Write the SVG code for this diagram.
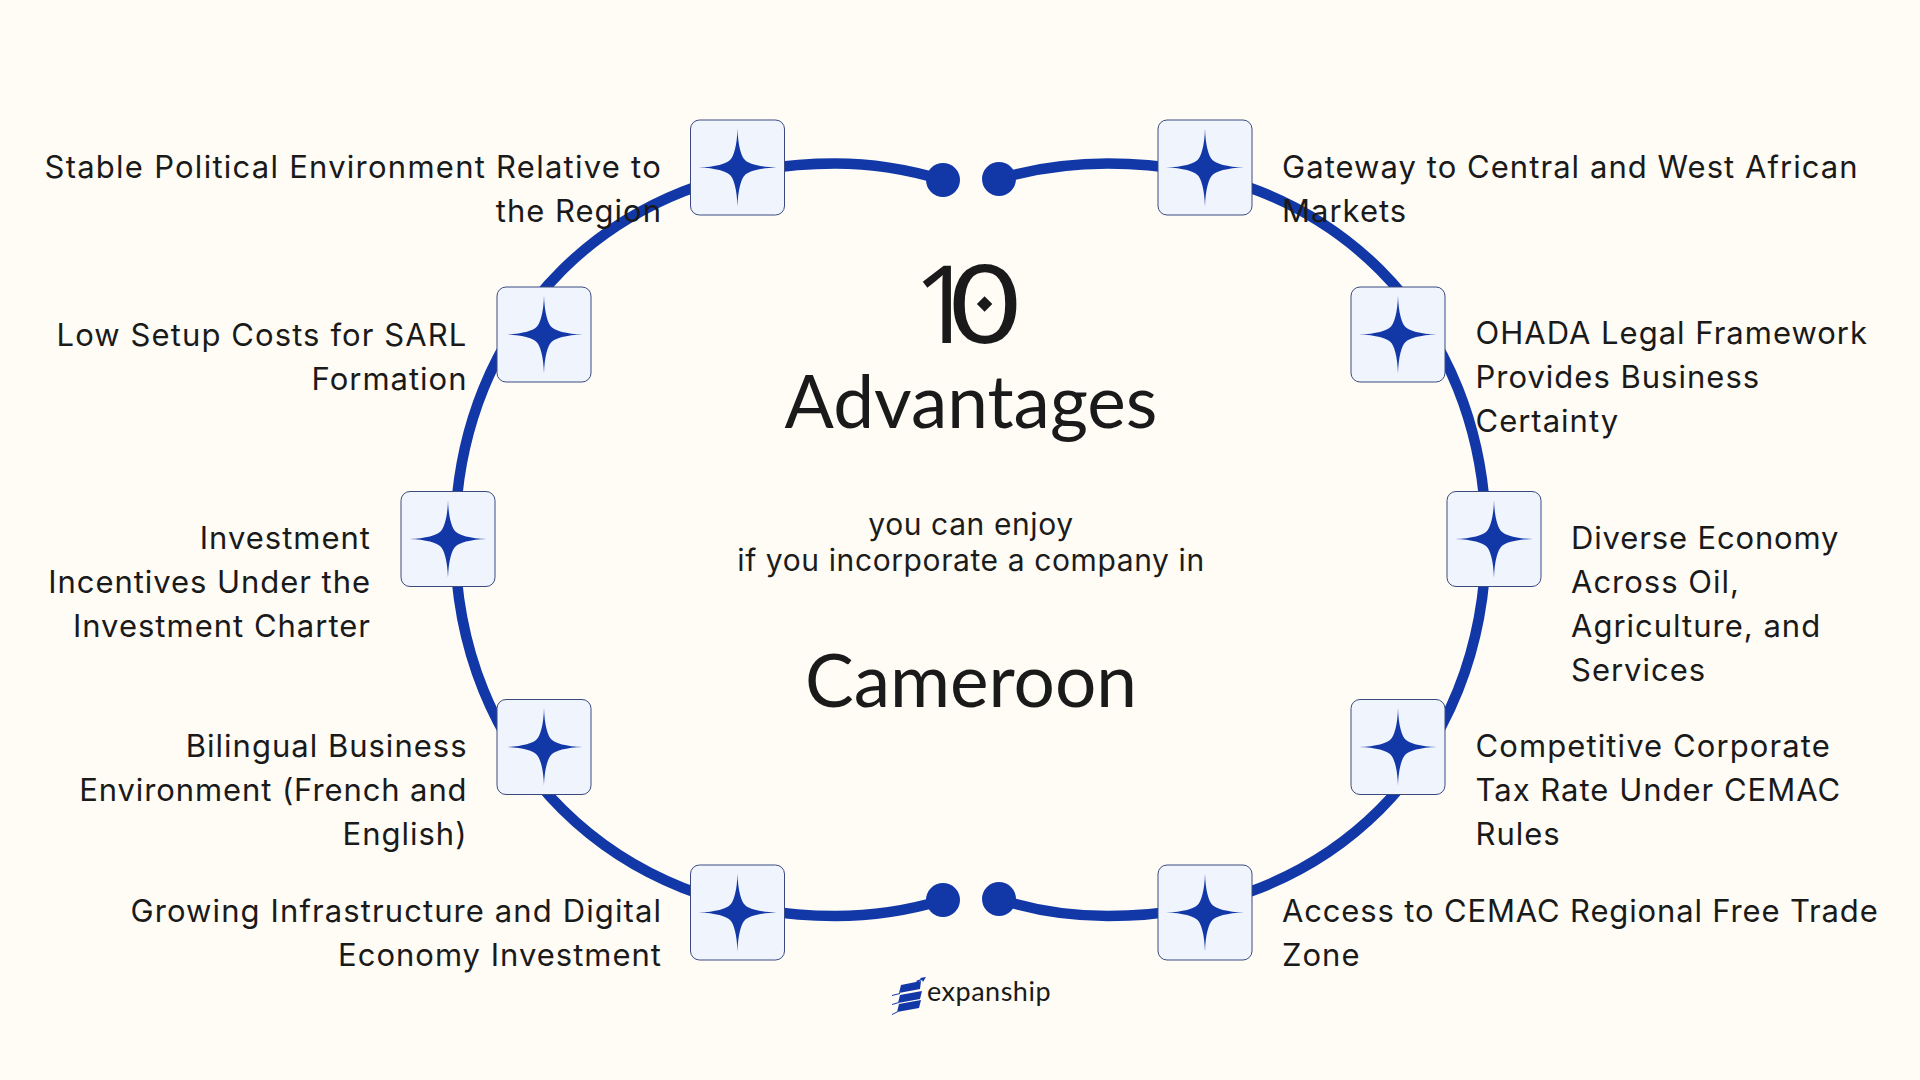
<svg xmlns="http://www.w3.org/2000/svg" width="1920" height="1080" viewBox="0 0 1920 1080">
<style>
.ring{fill:none;stroke:#1238A8;stroke-width:10.500}
.dot{fill:#1238A8}
.box{fill:#F0F4FD;stroke:#3A4A80;stroke-width:1}
.star{fill:#1238A8}
.lab{font-family:Inter,"Liberation Sans",sans-serif;font-size:31px;font-weight:430;fill:#1a1a1a;letter-spacing:1px}
.e{text-anchor:end}
.t{font-family:Lato,"Open Sans",sans-serif;fill:#1a1a1a;text-anchor:middle}
.sub{font-family:Inter,"Liberation Sans",sans-serif;font-size:30px;fill:#1c1c1c;text-anchor:middle;letter-spacing:.6px}
</style>
<defs>
<g id="tile">
<rect class="box" x="-47" y="-47.500" width="94" height="95" rx="9"/>
<path class="star" d="M0-39C.4-22 4-10.500 7.500-7.500C10.500-4 22-.4 39 0C22 .4 10.500 4 7.500 7.500C4 10.500 .4 22 0 39C-.4 22-4 10.500-7.500 7.500C-10.500 4-22 .4-39 0C-22-.4-10.500-4-7.500-7.500C-4-10.500-.4-22 0-39Z"/>
</g>
</defs>
<rect width="1920" height="1080" fill="#FFFCF6"/>
<g id="connectors">
<path class="ring" d="M943 180C910 170 875 163.500 835 163.500C615 163.500 455 321.500 455 539.500C455 757.500 615 916 835 916C875 916 910 910 943 900"/>
<path class="ring" d="M999 179C1032 169 1067 163.500 1108 163.500C1329 163.500 1486 321.500 1486 539.500C1486 757.500 1329 916 1108 916C1067 916 1032 910 999 899"/>
<circle class="dot" cx="943" cy="180" r="17"/>
<circle class="dot" cx="999" cy="179" r="17"/>
<circle class="dot" cx="943" cy="900" r="17"/>
<circle class="dot" cx="999" cy="899" r="17"/>
</g>
<g id="title">
<text font-family="Lato,sans-serif" font-size="108" fill="#1a1a1a" y="342.500"><tspan x="913" font-family="'Open Sans',sans-serif">1</tspan><tspan x="950" textLength="70" lengthAdjust="spacingAndGlyphs">0</tspan></text>
<path d="M984.600 296.300L992.300 304L984.600 311.700L976.900 304Z" fill="#1a1a1a"/>
<text class="t" x="971" y="428" font-size="73">Advantages</text>
<text class="sub" x="971" y="534.500">you can enjoy</text>
<text class="sub" x="971" y="571">if you incorporate a company in</text>
<text class="t" x="971" y="707" font-size="73">Cameroon</text>
</g>
<g id="node-1"><use href="#tile" x="737.500" y="167.500"/><text class="lab e" x="662" y="178" style="letter-spacing:1.25px">Stable Political Environment Relative to</text><text class="lab e" x="662" y="222">the Region</text></g>
<g id="node-2"><use href="#tile" x="544" y="334.500"/><text class="lab e" x="467.500" y="346" style="letter-spacing:1.1px">Low Setup Costs for SARL</text><text class="lab e" x="467.500" y="390">Formation</text></g>
<g id="node-3"><use href="#tile" x="448" y="539"/><text class="lab e" x="371" y="549">Investment</text><text class="lab e" x="371" y="593" style="letter-spacing:.95px">Incentives Under the</text><text class="lab e" x="371" y="637">Investment Charter</text></g>
<g id="node-4"><use href="#tile" x="544" y="747"/><text class="lab e" x="467.500" y="757">Bilingual Business</text><text class="lab e" x="467.500" y="801" style="letter-spacing:.9px">Environment (French and</text><text class="lab e" x="467.500" y="845">English)</text></g>
<g id="node-5"><use href="#tile" x="737.500" y="912.500"/><text class="lab e" x="662" y="922" style="letter-spacing:1.1px">Growing Infrastructure and Digital</text><text class="lab e" x="662" y="966">Economy Investment</text></g>
<g id="node-6"><use href="#tile" x="1205" y="167.500"/><text class="lab" x="1282" y="178" style="letter-spacing:1.05px">Gateway to Central and West African</text><text class="lab" x="1282" y="222">Markets</text></g>
<g id="node-7"><use href="#tile" x="1398" y="334.500"/><text class="lab" x="1475.500" y="344">OHADA Legal Framework</text><text class="lab" x="1475.500" y="388">Provides Business</text><text class="lab" x="1475.500" y="432">Certainty</text></g>
<g id="node-8"><use href="#tile" x="1494" y="539"/><text class="lab" x="1571" y="549" style="letter-spacing:.85px">Diverse Economy</text><text class="lab" x="1571" y="593">Across Oil,</text><text class="lab" x="1571" y="637">Agriculture, and</text><text class="lab" x="1571" y="681">Services</text></g>
<g id="node-9"><use href="#tile" x="1398" y="747"/><text class="lab" x="1475.500" y="757" style="letter-spacing:1.1px">Competitive Corporate</text><text class="lab" x="1475.500" y="801">Tax Rate Under CEMAC</text><text class="lab" x="1475.500" y="845">Rules</text></g>
<g id="node-10"><use href="#tile" x="1205" y="912.500"/><text class="lab" x="1282" y="922" style="letter-spacing:.85px">Access to CEMAC Regional Free Trade</text><text class="lab" x="1282" y="966">Zone</text></g>
<g id="logo">
<path fill="#1238A8" d="M901 985L921 981L920 989L899 993ZM900 995L922 991L920 999L898 1003ZM899 1004L921 1000L919 1008L897 1012ZM892 995L900 993L900 994L892 996ZM892 1004L899 1002L899 1003L892 1005ZM892 1014L898 1011L898 1012L892 1015ZM916 981L921 979L920 978L926 977L923 982L922 980L917 982Z"/>
<text x="927" y="1001" font-family="Lato,sans-serif" font-size="27" letter-spacing=".5" fill="#1a1a1a">expanship</text>
</g>
</svg>
